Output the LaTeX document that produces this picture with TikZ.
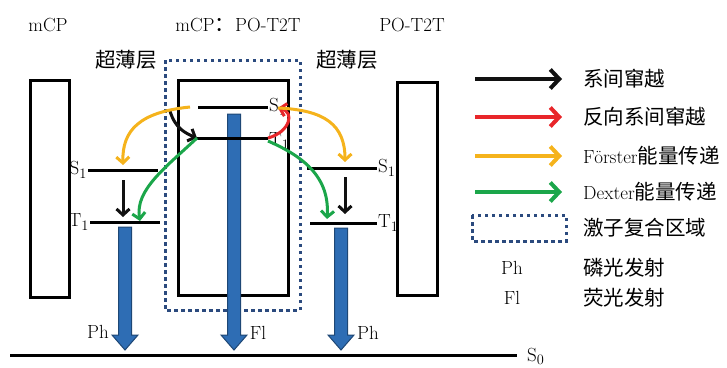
\documentclass[tikz,border=0pt]{standalone}
\usepackage{fontspec}
\usetikzlibrary{arrows.meta, calc}
\newfontfamily\cjk[Scale=1.08]{Noto Sans CJK SC}
\definecolor{iscblack}{HTML}{111111}
\definecolor{riscred}{HTML}{E8262A}
\definecolor{fretyellow}{HTML}{F5B31C}
\definecolor{dextgreen}{HTML}{1BA64A}
\definecolor{zoneblue}{HTML}{2B4A7E}
\definecolor{barblue}{HTML}{2E6DB4}
\tikzset{
  level/.style={black, line width=3pt},
  layer/.style={black, line width=3pt},
  zone/.style={zoneblue, line width=3pt, dash pattern=on 3.5pt off 3.5pt},
  emit/.style={fill=barblue, draw=barblue!65!black, line width=1pt},
  transfer/.style={line width=3pt, -{Straight Barb[length=6pt,width=13pt]}},
  keyarrow/.style={line width=4pt, -{Straight Barb[length=9pt,width=19pt]}}
}

\begin{document}
\begin{tikzpicture}[x=1pt, y=-1pt, font=\fontsize{19}{22}\selectfont]
        \useasboundingbox (0,0) rectangle (727,367);
        % layer titles
        \node (tmcp) at (48,25) {mCP};
        \node (tmix) at (238,25) {mCP{\cjk ：}PO-T2T};
        \node (tpo) at (412,25) {PO-T2T};
        \node (thinl) at (126,60) {\cjk 超薄层};
        \node (thinr) at (347,60) {\cjk 超薄层};
        % layers and recombination zone
        \draw[layer] (30,80) rectangle (69,297);
        \draw[layer] (178,80) rectangle (288,295);
        \draw[layer] (397,82) rectangle (437,295);
        \draw[zone] (165,60) rectangle (300,310);
        % emission bars
        \foreach \bx/\by in {125/227, 234/114, 341/228}
          \filldraw[emit] (\bx-6.5,\by) -- (\bx+6.5,\by) -- (\bx+6.5,335) -- (\bx+13,335)
            -- (\bx,350) -- (\bx-13,335) -- (\bx-6.5,335) -- cycle;
        % energy levels
        \coordinate (mS1-a) at (198,107); \coordinate (mS1-b) at (268,107);
        \coordinate (mT1-a) at (197,138); \coordinate (mT1-b) at (268,138);
        \coordinate (lS1-a) at (88,170);  \coordinate (lS1-b) at (158,170);
        \coordinate (lT1-a) at (90,222);  \coordinate (lT1-b) at (160,222);
        \coordinate (rS1-a) at (307,168); \coordinate (rS1-b) at (377,168);
        \coordinate (rT1-a) at (310,223); \coordinate (rT1-b) at (377,223);
        \coordinate (S0-a) at (10,355);   \coordinate (S0-b) at (517,355);
        \foreach \n in {mS1, mT1, lS1, lT1, rS1, rT1, S0}
          \draw[level] (\n-a) -- (\n-b);
        \node[left, inner sep=1pt] (llS1) at (lS1-a) {S$_1$};
        \node[left, inner sep=1pt] (llT1) at (lT1-a) {T$_1$};
        \node[right, inner sep=1pt] (lmS1) at (mS1-b) {S$_1$};
        \node[right, inner sep=1pt] (lmT1) at ($(mT1-b)+(0,3)$) {T$_1$};
        \node[right, inner sep=1pt] (lrS1) at (rS1-b) {S$_1$};
        \node[right, inner sep=1pt] (lrT1) at (rT1-b) {T$_1$};
        \node[anchor=base west, inner sep=0pt] (lS0) at (527,361) {S$_0$};
        \node (eml) at (98,332) {Ph};
        \node (emm) at (258,333) {Fl};
        \node (emr) at (368,333) {Ph};
        % transfer paths
        \coordinate (yl-s) at (190,107); \coordinate (yl-e) at (123,165);
        \coordinate (gl-e) at (140,221);
        \coordinate (bm-s) at (170,111);
        \coordinate (yr-s) at (278,108); \coordinate (yr-e) at (345,162);
        \coordinate (gr-s) at (268,141); \coordinate (gr-e) at (327,219);
        \draw[transfer, iscblack] (bm-s) .. controls (175,128) and (185,133) .. (mT1-a);
        \draw[transfer, fretyellow] (yl-s) .. controls (140,112) and (122,130) .. (yl-e);
        \draw[transfer, dextgreen] (mT1-a) .. controls (165,168) and (135,190) .. (gl-e);
        \draw[transfer, iscblack] (123,180) -- (123,217);
        \draw[transfer, riscred] (mT1-b) .. controls (290,132) and (295,112) .. (yr-s);
        \draw[transfer, fretyellow] (yr-s) .. controls (325,110) and (345,125) .. (yr-e);
        \draw[transfer, dextgreen] (gr-s) .. controls (300,155) and (330,175) .. (gr-e);
        \draw[transfer, iscblack] (345,177) -- (345,214);
        % legend
        \foreach \c/\y/\t in {iscblack/79/系间窜越, riscred/117/反向系间窜越,
            fretyellow/156/{\rmfamily Förster}能量传递, dextgreen/192/{\rmfamily Dexter}能量传递} {
          \draw[keyarrow, \c] (475,\y) -- (562,\y);
          \node[anchor=west, inner sep=0pt] (key\c) at (583,\y) {\cjk \t};
        }
        \draw[zone] (472,215) rectangle (566,241);
        \node[anchor=west, inner sep=0pt] (keyzone) at (583,228) {\cjk 激子复合区域};
        \node (keyph) at (512,268) {Ph};
        \node[anchor=west, inner sep=0pt] (keyphtext) at (583,268) {\cjk 磷光发射};
        \node (keyfl) at (512,298) {Fl};
        \node[anchor=west, inner sep=0pt] (keyfltext) at (583,298) {\cjk 荧光发射};
      \end{tikzpicture}
\end{document}
